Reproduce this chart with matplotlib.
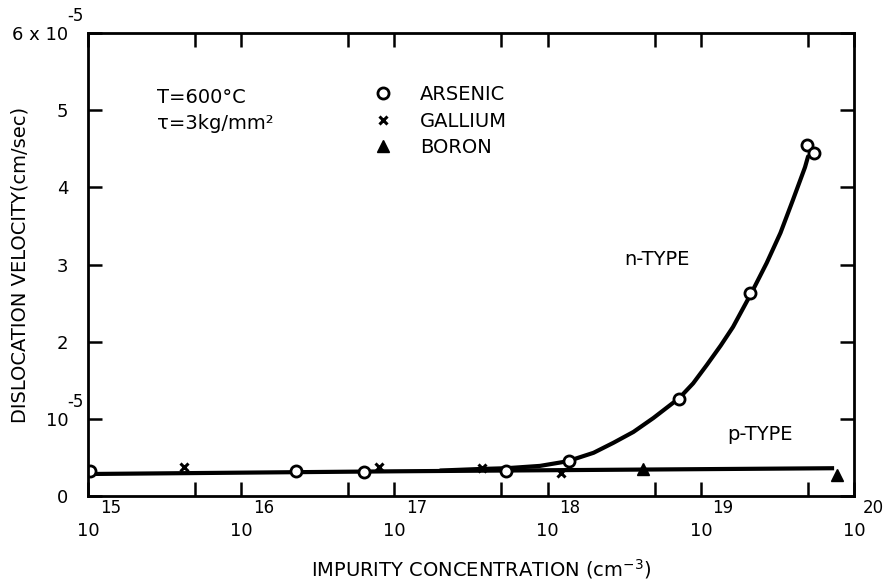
import numpy as np
import matplotlib
matplotlib.use("Agg")
import matplotlib.pyplot as plt
import matplotlib.transforms as mtransforms

# values; velocity in units of 1e-5 cm/sec
arsenic_logc = [15.01, 16.36, 16.80, 17.73, 18.14, 18.86, 19.32, 19.69, 19.74]
arsenic_v    = [0.32, 0.32, 0.31, 0.32, 0.45, 1.26, 2.63, 4.55, 4.44]
gallium_logc = [15.63, 16.90, 17.57, 18.09]
gallium_v    = [0.38, 0.38, 0.36, 0.30]
boron_logc   = [18.62, 19.89]
boron_v      = [0.35, 0.27]

# hand-drawn curves
ntype_logc = [17.30, 17.56, 17.73, 17.95, 18.13, 18.30, 18.43, 18.56, 18.69, 18.86, 18.95,
              19.04, 19.13, 19.21, 19.33, 19.43, 19.52, 19.60, 19.68, 19.70]
ntype_v    = [0.33, 0.35, 0.36, 0.39, 0.45, 0.56, 0.69, 0.83, 1.01, 1.27, 1.46,
              1.70, 1.95, 2.19, 2.63, 3.02, 3.41, 3.83, 4.26, 4.40]
ptype_logc = [15.0, 17.0, 19.87]
ptype_v    = [0.285, 0.32, 0.36]

decades = [15, 16, 17, 18, 19, 20]
yticks = [0, 1, 2, 3, 4, 5, 6]
ylabels = ["0", "10", "2", "3", "4", "5", "6 x 10"]

fs = 12    # tick labels
tfs = 14   # labels and annotations
fig = plt.figure(figsize=(8.85, 5.81), dpi=100)
ax = fig.add_axes([0.0994, 0.1463, 0.8656, 0.7969])

c = lambda e: 10.0 ** np.array(e)

ax.plot(c(ptype_logc), ptype_v, color="black", lw=3, solid_capstyle="butt")
ax.plot(c(ntype_logc), ntype_v, color="black", lw=3, solid_capstyle="round",
        solid_joinstyle="round")

ax.plot(c(gallium_logc), gallium_v, ls="none", marker="x", ms=6, mew=2.2, color="black")
ax.plot(c(boron_logc), boron_v, ls="none", marker="^", ms=8, color="black")
ax.plot(c(arsenic_logc), arsenic_v, ls="none", marker="o", ms=8, mew=2,
        mfc="white", mec="black")

ax.set_xscale("log")
ax.set_xlim(1e15, 1e20)
ax.set_ylim(0, 6)

for s in ax.spines.values():
    s.set_linewidth(2)

ax.set_xticks(c(decades))
ax.set_xticklabels(["10"] * len(decades), fontsize=fs + 1)
ax.set_xticks([5 * 10.0 ** d for d in decades[:-1]], minor=True)
ax.set_xticklabels([], minor=True)
ax.tick_params(axis="x", which="both", direction="in", top=True, length=10, width=1.8, pad=19)

ax.set_yticks(yticks)
ax.set_yticklabels(ylabels, fontsize=fs + 1)
ax.tick_params(axis="y", direction="in", right=True, length=10, width=1.8, pad=14)

# exponents drawn separately, raised like in the original lettering
xtr = mtransforms.blended_transform_factory(ax.transData, ax.transAxes)
for d in decades:
    dx = 16 if d < 20 else 14
    ax.annotate(str(d), xy=(10.0 ** d, 0), xycoords=xtr, xytext=(dx, -9),
                textcoords="offset points", ha="center", va="center", fontsize=fs)
ytr = mtransforms.blended_transform_factory(ax.transAxes, ax.transData)
for yv in [1, 6]:
    ax.annotate("-5", xy=(0, yv), xycoords=ytr, xytext=(-9, 12),
                textcoords="offset points", ha="center", va="center", fontsize=fs)

ax.set_ylabel("DISLOCATION VELOCITY(cm/sec)", fontsize=tfs, va="center")
ax.yaxis.set_label_coords(-0.089, 0.5)
ax.set_xlabel("IMPURITY CONCENTRATION (cm$^{-3}$)", fontsize=tfs, va="center")
ax.xaxis.set_label_coords(0.513, -0.158)

ax.text(0.09, 0.86, "T=600°C", transform=ax.transAxes, fontsize=tfs, va="center")
ax.text(0.09, 0.805, "τ=3kg/mm²", transform=ax.transAxes, fontsize=tfs, va="center")
ax.text(0.70, 0.51, "n-TYPE", transform=ax.transAxes, fontsize=tfs, va="center")
ax.text(0.835, 0.133, "p-TYPE", transform=ax.transAxes, fontsize=tfs, va="center")

h_as = plt.Line2D([], [], ls="none", marker="o", ms=8, mew=2, mfc="white", mec="black")
h_ga = plt.Line2D([], [], ls="none", marker="x", ms=6, mew=2.2, color="black")
h_b = plt.Line2D([], [], ls="none", marker="^", ms=8, color="black")
ax.legend([h_as, h_ga, h_b], ["ARSENIC", "GALLIUM", "BORON"], loc="upper left",
          bbox_to_anchor=(0.362, 0.904), frameon=False, fontsize=tfs,
          handlelength=1.0, handletextpad=1.4, labelspacing=0.38, borderaxespad=0)

plt.savefig("out.png", dpi=100)
